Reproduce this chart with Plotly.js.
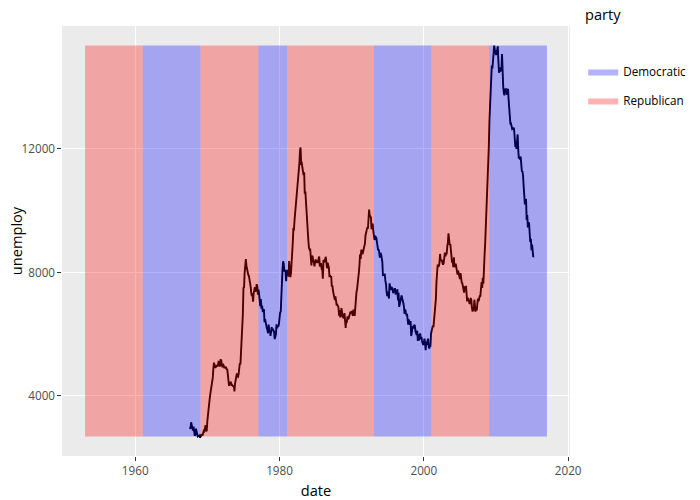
<!DOCTYPE html>
<html><head><meta charset="utf-8">
<script src="https://cdn.plot.ly/plotly-3.0.1.min.js"></script>
<style>body{margin:0;}#chart{width:700px;height:500px;}</style>
</head><body><div id="chart"></div>
<script>
// economics$unemploy, monthly from 1967-07
const startMonth = "1967-07";
const unemploy = [
2944,2945,2958,3143,3066,3018,
2878,3001,2877,2709,2740,2938,2883,2768,2686,2689,2715,2685,
2718,2692,2712,2758,2713,2816,2868,2856,3040,3049,2856,2884,
3201,3453,3635,3797,3919,4071,4175,4256,4456,4591,4898,5076,
4986,4903,4987,4959,4996,4949,5035,5134,5042,4954,5161,5154,
5019,4928,5038,4959,4922,4923,4913,4939,4849,4875,4602,4543,
4326,4452,4394,4459,4329,4363,4305,4305,4350,4144,4396,4489,
4644,4731,4634,4618,4705,4927,5063,5022,5437,5523,6140,6636,
7501,7520,7978,8210,8433,8220,8127,7928,7923,7897,7794,7744,
7534,7326,7230,7330,7053,7322,7490,7518,7380,7430,7620,7545,
7280,7443,7307,7059,6911,7134,6829,6925,6751,6763,6815,6386,
6489,6318,6337,6180,6127,6028,6309,6080,6125,5947,6077,6228,
6109,6173,6109,6069,5840,5959,5996,6320,6190,6296,6238,6325,
6683,6702,6729,7358,7984,8098,8363,8281,8021,8088,8023,7718,
8071,8051,7982,7869,8366,8131,7848,7951,8237,8475,8957,9405,
9397,9705,9895,10244,10335,10538,10849,10881,11217,11529,11938,12051,
11534,11545,11408,11268,11154,11246,10548,10623,10282,9887,9499,9331,
9008,8791,8746,8762,8456,8226,8537,8519,8367,8381,8198,8358,
8423,8321,8339,8395,8302,8460,8513,8196,8248,8298,8128,8138,
7795,8402,8383,8364,8439,8508,8319,8135,8310,8243,8159,7883,
7892,7865,7862,7542,7574,7398,7268,7261,7102,7227,7035,6936,
6953,6929,6876,6601,6779,6546,6605,6843,6604,6568,6537,6518,
6682,6359,6205,6468,6375,6577,6495,6511,6590,6630,6725,6667,
6752,6651,6598,6797,6742,6590,6922,7188,7368,7459,7764,7901,
8015,8265,8586,8439,8736,8692,8586,8666,8722,8842,8931,9198,
9283,9454,9460,9415,9744,10040,9850,9787,9781,9398,9565,9557,
9325,9183,9056,9110,9149,9121,8930,8763,8714,8750,8542,8477,
8630,8583,8470,8331,7915,7927,7946,7933,7734,7632,7375,7230,
7375,7187,7153,7645,7430,7427,7527,7484,7478,7328,7426,7423,
7491,7313,7318,7415,7423,7095,7337,6882,6979,7031,7236,7253,
7158,7102,7000,6873,6655,6799,6655,6608,6656,6454,6308,6476,
6368,6306,6422,5941,6047,6212,6259,6179,6300,6280,6100,6032,
5976,6111,5783,6004,5796,5951,6025,5838,5915,5778,5716,5653,
5708,5858,5733,5481,5758,5651,5747,5853,5625,5534,5639,5634,
6023,6089,6141,6271,6226,6484,6583,7042,7142,7694,8003,8258,
8182,8215,8304,8599,8399,8393,8390,8304,8251,8307,8520,8640,
8520,8618,8588,8842,8957,9266,9011,8896,8921,8732,8576,8317,
8370,8167,8491,8170,8212,8286,8136,7990,7927,8061,7932,7934,
7784,7980,7737,7672,7651,7524,7406,7345,7553,7453,7566,7279,
7064,7184,7072,7120,6980,7001,7175,7091,6847,6727,6872,6762,
7116,6927,6731,6850,6766,6979,7149,7067,7170,7237,7240,7645,
7685,7497,7822,7637,8395,8575,8937,9438,9494,10074,10538,11286,
12058,12898,13426,13853,14499,14707,14601,14814,15009,15352,15219,15098,
15046,15113,15202,15325,14849,14474,14512,14648,14579,14516,15081,14348,
14013,13820,13737,13957,13855,13962,13763,13818,13948,13594,13302,13093,
12797,12813,12713,12646,12660,12692,12656,12471,12115,12124,12005,12298,
12471,11950,11689,11760,11654,11751,11335,11279,11270,11136,10787,10404,
10202,10349,10380,9702,9859,9460,9608,9599,9262,8990,9090,8717,
8903,8610,8504,8526
];

// presidential terms
const termStart = ["1953-01-20","1961-01-20","1963-11-22","1969-01-20","1974-08-09","1977-01-20","1981-01-20","1989-01-20","1993-01-20","2001-01-20","2009-01-20"];
const termEnd   = ["1961-01-20","1963-11-22","1969-01-20","1974-08-09","1977-01-20","1981-01-20","1989-01-20","1993-01-20","2001-01-20","2009-01-20","2017-01-20"];
const termParty = ["Republican","Democratic","Democratic","Republican","Republican","Democratic","Republican","Republican","Democratic","Republican","Democratic"];
const parties = ["Democratic","Republican"];
const partyFill = {"Democratic":"rgba(0,0,255,0.3)","Republican":"rgba(255,0,0,0.3)"};

// build monthly dates
const sy = parseInt(startMonth.slice(0,4)), sm = parseInt(startMonth.slice(5,7));
const dates = unemploy.map((_, i) => {
  const m0 = sm - 1 + i;
  const y = sy + Math.floor(m0 / 12);
  const m = (m0 % 12) + 1;
  return y + "-" + String(m).padStart(2, "0") + "-01";
});
const yMin = Math.min(...unemploy), yMax = Math.max(...unemploy);

const traces = [{
  x: dates, y: unemploy, type: "scatter", mode: "lines",
  line: {color: "rgba(0,0,0,1)", width: 1.89}, showlegend: false, hoverinfo: "x+y"
}];

parties.forEach(p => {
  const xs = [], ys = [];
  termParty.forEach((tp, i) => {
    if (tp !== p) return;
    xs.push(termStart[i], termStart[i], termEnd[i], termEnd[i], termStart[i], null);
    ys.push(yMin, yMax, yMax, yMin, yMin, null);
  });
  traces.push({
    x: xs, y: ys, type: "scatter", mode: "lines", fill: "toself",
    fillcolor: partyFill[p], line: {width: 1.89, color: "transparent"},
    name: p, legendgroup: p, showlegend: true, hoveron: "fills"
  });
});

const tickFont = {color: "rgba(77,77,77,1)", size: 11.7};
const layout = {
  width: 700, height: 500,
  margin: {l: 62, r: 130, t: 26, b: 44, autoexpand: false},
  paper_bgcolor: "white", plot_bgcolor: "rgba(235,235,235,1)",
  font: {color: "rgba(0,0,0,1)", size: 14.6},
  xaxis: {
    type: "date", range: ["1949-11-08", "2020-04-03"],
    tickvals: ["1960-01-01","1980-01-01","2000-01-01","2020-01-01"],
    ticktext: ["1960","1980","2000","2020"],
    ticks: "outside", ticklen: 3.65, tickwidth: 0.66, tickcolor: "rgba(51,51,51,1)",
    tickfont: tickFont, showgrid: true, gridcolor: "white", gridwidth: 0.66,
    zeroline: false, showline: false,
    title: {text: "date", font: {size: 14.6, color: "black"}}
  },
  yaxis: {
    range: [2051.65, 15985.35],
    tickvals: [4000, 8000, 12000], ticktext: ["4000","8000","12000"],
    ticks: "outside", ticklen: 3.65, tickwidth: 0.66, tickcolor: "rgba(51,51,51,1)",
    tickfont: tickFont, showgrid: true, gridcolor: "white", gridwidth: 0.66,
    zeroline: false, showline: false,
    title: {text: "unemploy", font: {size: 14.6, color: "black"}}
  },
  showlegend: true,
  legend: {x: 1.026, xanchor: "left", y: 0.928, yanchor: "top", bgcolor: "white",
    font: {size: 11.7, color: "rgba(0,0,0,1)"}, tracegroupgap: 10},
  annotations: [{text: "party", x: 1.026, y: 1, xref: "paper", yref: "paper",
    xanchor: "left", yanchor: "bottom", showarrow: false,
    font: {size: 14.6, color: "black"}}]
};

Plotly.newPlot("chart", traces, layout, {displayModeBar: false});
</script>
</body></html>
